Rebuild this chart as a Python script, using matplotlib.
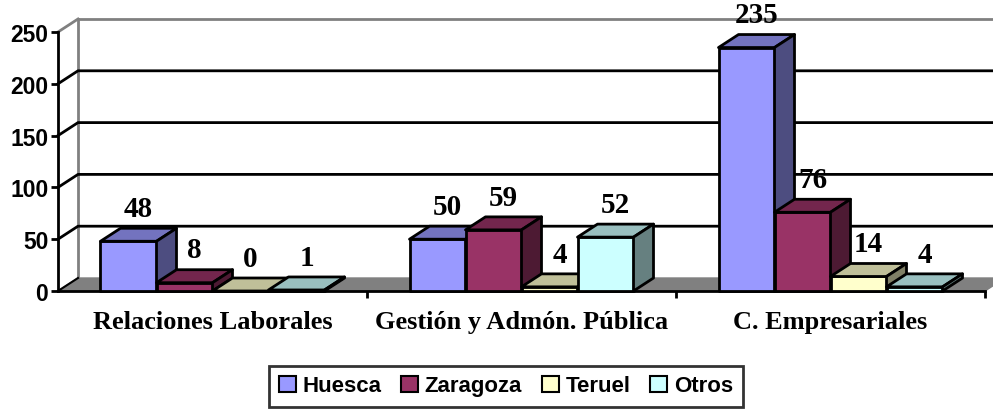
import matplotlib
matplotlib.use("Agg")
import matplotlib.pyplot as plt
from matplotlib.patches import Polygon, Patch
from matplotlib.colors import to_rgb
import numpy as np

categories = ["Relaciones Laborales", "Gestión y Admón. Pública", "C. Empresariales"]
series = ["Huesca", "Zaragoza", "Teruel", "Otros"]
huesca = [48, 50, 235]
zaragoza = [8, 59, 76]
teruel = [0, 4, 14]
otros = [1, 52, 4]
yticks = [0, 50, 100, 150, 200, 250]

values = [huesca, zaragoza, teruel, otros]
colors = ["#9999FF", "#993366", "#FFFFCC", "#CCFFFF"]

W, H = 993, 410
fig = plt.figure(figsize=(W / 100, H / 100), dpi=100)
ax_left, ax_bottom, ax_w, ax_h = 58, 118, 927, 259
ax = fig.add_axes([ax_left / W, ax_bottom / H, ax_w / W, ax_h / H])
ax.set_xlim(-0.5, 2.5)
ax.set_ylim(0, 250)

# depth offsets in data units (20 px right, 13 px up)
dx = 20 / ax_w * 3.0
dy = 13 / ax_h * 250.0
bw = 56 / ax_w * 3.0

def shade(c, f):
    r, g, b = to_rgb(c)
    return (r * f, g * f, b * f)

x0, x1 = -0.5, 2.5
# floor
ax.add_patch(Polygon([(x0, 0), (x1, 0), (x1 + dx, dy), (x0 + dx, dy)],
                     closed=True, facecolor="#808080", edgecolor="#808080",
                     lw=1, zorder=1, clip_on=False))
# back wall borders
ax.plot([x0 + dx, x0 + dx], [dy, 250 + dy], color="#808080", lw=2, zorder=1.5, clip_on=False)
ax.plot([x0 + dx, x1 + dx], [250 + dy, 250 + dy], color="#808080", lw=2, zorder=1.5, clip_on=False)
ax.plot([x0, x0 + dx], [250, 250 + dy], color="#808080", lw=2, zorder=1.5, clip_on=False)
# gridlines
for v in yticks[1:-1]:
    ax.plot([x0, x0 + dx, x1 + dx], [v, v + dy, v + dy], color="black", lw=2,
            zorder=1.5, clip_on=False)
ax.plot([x0, x0 + dx], [0, dy], color="black", lw=1.5, zorder=1.5, clip_on=False)

# bars
n = len(series)
for ci in range(len(categories)):
    for si in range(n):
        h = values[si][ci]
        c = colors[si]
        xl = ci + (si - n / 2) * bw
        xr = xl + bw
        z = 3 + si * 0.1 + ci
        ax.add_patch(Polygon([(xl, 0), (xr, 0), (xr, h), (xl, h)], closed=True,
                             facecolor=c, edgecolor="black", lw=2, zorder=z,
                             clip_on=False, joinstyle="round"))
        ax.add_patch(Polygon([(xl, h), (xr, h), (xr + dx, h + dy), (xl + dx, h + dy)],
                             closed=True, facecolor=shade(c, 0.75), edgecolor="black",
                             lw=2, zorder=z, clip_on=False, joinstyle="round"))
        ax.add_patch(Polygon([(xr, 0), (xr + dx, dy), (xr + dx, h + dy), (xr, h)],
                             closed=True, facecolor=shade(c, 0.5), edgecolor="black",
                             lw=2, zorder=z, clip_on=False, joinstyle="round"))
        ax.text((xl + xr) / 2 + dx / 2, h + dy + 6, str(h), ha="center", va="bottom",
                fontsize=21, fontweight="bold", family="Liberation Serif",
                zorder=20, clip_on=False)

# axes styling
for s in ["top", "right"]:
    ax.spines[s].set_visible(False)
for s in ["left", "bottom"]:
    ax.spines[s].set_linewidth(2)
    ax.spines[s].set_color("black")
    ax.spines[s].set_zorder(2)
ax.set_yticks(yticks)
ax.set_yticklabels([str(t) for t in yticks], fontsize=16.5, fontweight="bold",
                   family="Liberation Sans")
ax.tick_params(axis="y", length=5, width=2, pad=2)
ax.set_xticks([0.5, 1.5, 2.5])
ax.set_xticklabels([])
ax.tick_params(axis="x", length=5, width=2)
ax.patch.set_visible(False)

for i, cat in enumerate(categories):
    ax.text(i, -29, cat, ha="center", va="center", fontsize=19, fontweight="bold",
            family="Liberation Serif", clip_on=False)

handles = [Patch(facecolor=c, edgecolor="black", lw=1.5) for c in colors]
leg = fig.legend(handles, series, loc="center", bbox_to_anchor=(506 / W, (410 - 387) / H),
                 ncol=4, frameon=True, fancybox=False, handlelength=0.75, handleheight=0.75,
                 handletextpad=0.3, columnspacing=0.9, borderpad=0.45,
                 prop={"family": "Liberation Sans", "weight": "bold", "size": 16})
leg.get_frame().set_edgecolor("black")
leg.get_frame().set_linewidth(2)

fig.savefig("out.png", dpi=100)
